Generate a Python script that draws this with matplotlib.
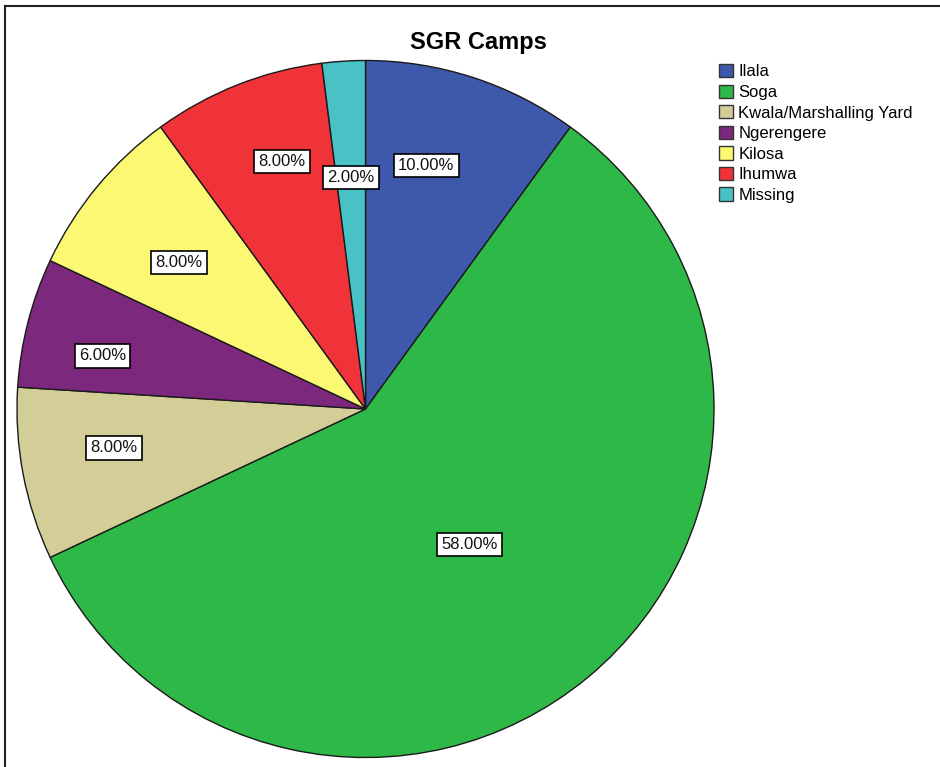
import numpy as np
import matplotlib
matplotlib.use("Agg")
import matplotlib.pyplot as plt
from matplotlib.patches import Patch
from matplotlib.lines import Line2D

plt.rcParams['font.family'] = ['Liberation Sans', 'DejaVu Sans']

# Data
camps = ["Ilala", "Soga", "Kwala/Marshalling Yard", "Ngerengere", "Kilosa", "Ihumwa", "Missing"]
percents = [10.0, 58.0, 8.0, 6.0, 8.0, 8.0, 2.0]
colors = ["#3E58AC", "#2EB848", "#D3CE97", "#7C287D", "#FBF873", "#EF3338", "#48C2C5"]
title = "SGR Camps"

# label placement (fraction of radius, angular offset in degrees)
label_radius = [0.72, 0.49, 0.73, 0.77, 0.68, 0.75, 0.665]
label_shift = [4.0, -2.0, -2.0, 3.0, 1.5, -3.0, 0.0]

W, H = 940, 767
fig = plt.figure(figsize=(W / 100, H / 100), dpi=100)

cx, cy, R = 365.5, 409.0, 348.5
ax = fig.add_axes([(cx - R) / W, (H - cy - R) / H, 2 * R / W, 2 * R / H])
wedges, _ = ax.pie(percents, colors=colors, startangle=90, counterclock=False,
                   radius=1.0, wedgeprops=dict(edgecolor="#1a1a1a", linewidth=1.0))
ax.set_xlim(-1, 1)
ax.set_ylim(-1, 1)
ax.set_aspect("equal")
ax.axis("off")

for w, p, rf, sh in zip(wedges, percents, label_radius, label_shift):
    mid = np.deg2rad((w.theta1 + w.theta2) / 2 + sh)
    ax.text(rf * np.cos(mid), rf * np.sin(mid), f"{p:.2f}%", ha="center", va="center",
            fontsize=12, color="#111111",
            bbox=dict(boxstyle="square,pad=0.25", facecolor="white", edgecolor="black", linewidth=1.2))

fig.text(478 / W, 1 - 42 / H, title, ha="center", va="center", fontsize=17, fontweight="bold")

handles = [Patch(facecolor=c, edgecolor="#333333", linewidth=1.0) for c in colors]
fig.legend(handles, camps, loc="upper left", bbox_to_anchor=(719 / W, 1 - 64 / H),
           frameon=False, fontsize=12, borderpad=0, borderaxespad=0,
           handlelength=0.85, handleheight=0.85, handletextpad=0.3, labelspacing=0.31)

# outer frame
fig.add_artist(Line2D([5 / W, 5 / W], [0, 1 - 6 / H], transform=fig.transFigure, color="#222222", lw=1.5))
fig.add_artist(Line2D([5 / W, 1], [1 - 6 / H, 1 - 6 / H], transform=fig.transFigure, color="#222222", lw=1.5))

fig.savefig("out.png", dpi=100, facecolor="white")
